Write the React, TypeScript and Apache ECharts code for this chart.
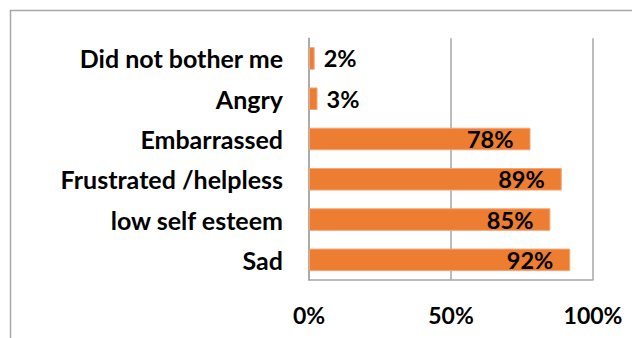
import React, { useEffect, useRef } from "react";
import * as echarts from "echarts";

const categories = ["Sad", "low self esteem", "Frustrated /helpless", "Embarrassed", "Angry", "Did not bother me"];
const values = [92, 85, 89, 78, 3, 2];
const xTicks = { min: 0, max: 100, interval: 50 };

const FONT = "Lato";
const GRAY = "#a6a6a6";

export default function App() {
  const ref = useRef<HTMLDivElement>(null);
  useEffect(() => {
    if (!ref.current) return;
    const chart = echarts.init(ref.current, null, { renderer: "svg" });
    chart.setOption({
      animation: false,
      backgroundColor: "#ffffff",
      graphic: [
        {
          type: "rect",
          shape: { x: 10.5, y: 10.5, width: 700, height: 400 },
          style: { fill: "none", stroke: GRAY, lineWidth: 1.5 },
          silent: true,
        },
      ],
      grid: { left: 309, top: 38.3, width: 284, height: 241.7, containLabel: false },
      xAxis: {
        type: "value",
        min: xTicks.min,
        max: xTicks.max,
        interval: xTicks.interval,
        axisLine: { show: true, lineStyle: { color: GRAY, width: 1.5 } },
        axisTick: { show: false },
        splitLine: { show: true, lineStyle: { color: GRAY, width: 1.5 } },
        axisLabel: {
          formatter: "{value}%",
          fontFamily: FONT,
          fontWeight: "bold",
          fontSize: 23,
          color: "#000",
          margin: 23,
        },
      },
      yAxis: {
        type: "category",
        data: categories,
        axisLine: { show: true, lineStyle: { color: GRAY, width: 1.5 } },
        axisTick: { show: false },
        axisLabel: {
          fontFamily: FONT,
          fontWeight: "bold",
          fontSize: 25,
          color: "#000",
          margin: 26,
        },
      },
      series: [
        {
          type: "bar",
          barCategoryGap: "44%",
          itemStyle: { color: "#ED7D31", borderColor: "#F4A67A", borderWidth: 1 },
          data: values.map((v) => ({
            value: v,
            label: {
              show: true,
              position: v < 10 ? "right" : "insideRight",
              distance: v < 10 ? 9 : 17,
              formatter: "{c}%",
              fontFamily: FONT,
              fontWeight: "bold",
              fontSize: 23.5,
              color: "#000",
            },
          })),
        },
      ],
    });
    return () => chart.dispose();
  }, []);
  return (
    <div
      ref={ref}
      style={{ position: "absolute", left: 0, top: 0, width: 632, height: 338 }}
    />
  );
}
